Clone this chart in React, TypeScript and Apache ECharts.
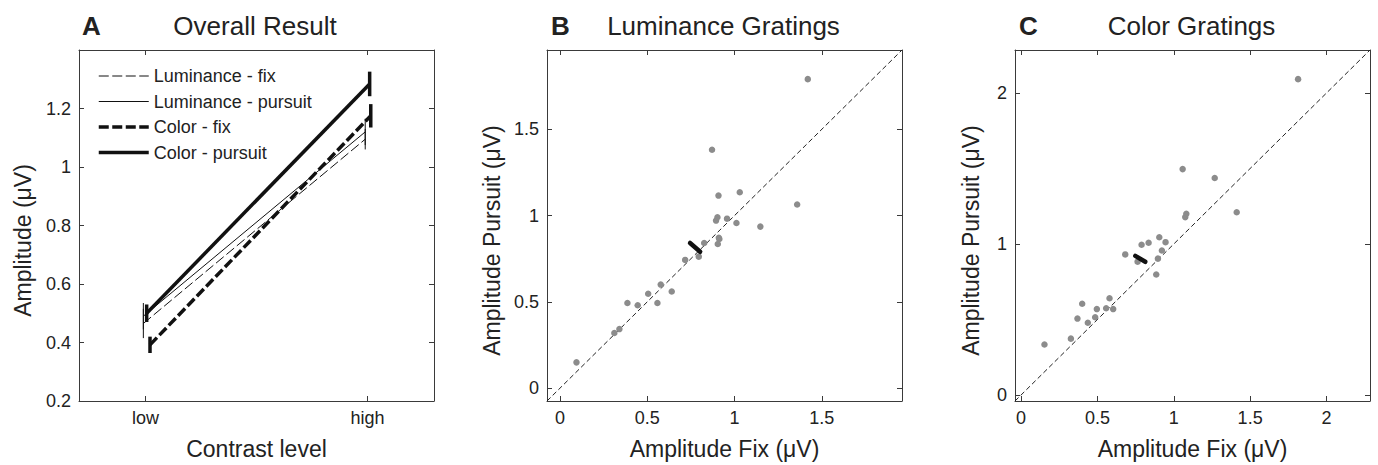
import React, { useEffect, useRef } from 'react';
import * as echarts from 'echarts';

// ---------- Panel A: Overall Result ----------
const contrastTicks = [1, 2];
const contrastLabels = ['low', 'high'];
const lumFixX = [0.99, 1.99];
const lumFix = [0.465, 1.095];
const lumFixErr = [0.05, 0.035];
const lumPursuitX = [0.99, 1.99];
const lumPursuit = [0.49, 1.12];
const lumPursuitErr = [0.045, 0.045];
const colorFixX = [1.02, 2.015];
const colorFix = [0.392, 1.175];
const colorFixErr = [0.028, 0.04];
const colorPursuitX = [1.005, 2.01];
const colorPursuit = [0.5, 1.284];
const colorPursuitErr = [0.03, 0.042];

// ---------- Panel B: Luminance Gratings ----------
const lumAmpFix = [0.094, 0.311, 0.34, 0.386, 0.445, 0.505, 0.558, 0.577, 0.64, 0.717, 0.795, 0.826, 0.871, 0.894, 0.902, 0.908, 0.91, 0.913, 0.904, 0.957, 1.011, 1.03, 1.148, 1.359, 1.42];
const lumAmpPursuit = [0.149, 0.319, 0.342, 0.493, 0.48, 0.547, 0.493, 0.6, 0.56, 0.743, 0.762, 0.841, 1.382, 0.971, 0.99, 1.116, 0.871, 0.864, 0.835, 0.982, 0.957, 1.135, 0.936, 1.064, 1.791];
const lumMeanFix = [0.745, 0.803];
const lumMeanPursuit = [0.841, 0.79];

// ---------- Panel C: Color Gratings ----------
const colAmpFix = [0.153, 0.326, 0.369, 0.4, 0.437, 0.485, 0.496, 0.557, 0.579, 0.603, 0.682, 0.763, 0.789, 0.835, 0.885, 0.896, 0.905, 0.922, 0.946, 1.058, 1.075, 1.082, 1.268, 1.412, 1.814];
const colAmpPursuit = [0.334, 0.373, 0.506, 0.604, 0.478, 0.515, 0.569, 0.574, 0.641, 0.569, 0.931, 0.883, 0.995, 1.008, 0.798, 0.903, 1.045, 0.957, 1.012, 1.496, 1.178, 1.2, 1.437, 1.21, 2.092];
const colMeanFix = [0.748, 0.813];
const colMeanPursuit = [0.921, 0.882];

const rangeB = [-0.075, 1.96];
const rangeC = [-0.04, 2.285];

const FONT = '"Liberation Sans", Arial, Helvetica, sans-serif';
const TXT = '#222';
const FRAME = '#3a3a3a';
const DOT = '#8c8c8c';

const legendNames = ['Luminance - fix', 'Luminance - pursuit', 'Color - fix', 'Color - pursuit'];
const legendWidths = [1, 1, 3.5, 3.5];
const legendDashed = [true, false, true, false];

const grids = [
  { left: 79, top: 50, width: 355, height: 356 },
  { left: 547, top: 50, width: 355, height: 356 },
  { left: 1015, top: 50, width: 355, height: 356 },
];

function valAxis(opts: any) {
  return {
    type: 'value',
    scale: false,
    axisLine: { show: true, onZero: false, lineStyle: { color: FRAME, width: 1 } },
    axisTick: { show: true, inside: true, length: 5, lineStyle: { color: FRAME, width: 1 } },
    splitLine: { show: false },
    axisLabel: { show: true, color: TXT, fontSize: 18, fontFamily: FONT, margin: 8, showMinLabel: false, showMaxLabel: false },
    nameTextStyle: { color: TXT, fontSize: 23, fontFamily: FONT },
    ...opts,
  };
}

function mirror(base: any, position: string) {
  return {
    ...base,
    position,
    name: '',
    axisLabel: { show: false },
  };
}

function errSeries(xs: number[], ys: number[], errs: number[], width: number) {
  return {
    type: 'custom',
    xAxisIndex: 0,
    yAxisIndex: 0,
    z: 4,
    silent: true,
    data: xs.map((x, i) => [x, ys[i] - errs[i], ys[i] + errs[i]]),
    encode: { x: 0, y: [1, 2] },
    renderItem: (_p: any, api: any) => {
      const lo = api.coord([api.value(0), api.value(1)]);
      const hi = api.coord([api.value(0), api.value(2)]);
      return {
        type: 'line',
        shape: { x1: lo[0], y1: lo[1], x2: hi[0], y2: hi[1] },
        style: { stroke: '#111', lineWidth: width },
      };
    },
  };
}

function lineSeries(name: string, xs: number[], ys: number[], width: number, dashed: boolean) {
  return {
    type: 'line',
    name,
    xAxisIndex: 0,
    yAxisIndex: 0,
    symbol: 'none',
    showSymbol: false,
    z: 3,
    data: xs.map((x, i) => [x, ys[i]]),
    lineStyle: { color: '#111', width, type: dashed ? [10, 3.5] : 'solid' },
    itemStyle: { color: '#111' },
  };
}

export default function App() {
  const ref = useRef<HTMLDivElement>(null);
  useEffect(() => {
    if (!ref.current) return;
    const chart = echarts.init(ref.current, undefined, { renderer: 'svg' });

    const xA = valAxis({
      gridIndex: 0, min: 0.7, max: 2.3, splitNumber: 2,
      name: 'Contrast level', nameLocation: 'middle', nameGap: 36,
      axisLabel: {
        show: true, color: TXT, fontSize: 18, fontFamily: FONT, margin: 8,
        showMinLabel: false, showMaxLabel: false,
        formatter: (v: number) => {
          const i = contrastTicks.indexOf(Math.round(v * 1000) / 1000);
          return i >= 0 ? contrastLabels[i] : '';
        },
      },
    });
    const yA = valAxis({
      gridIndex: 0, min: 0.2, max: 1.4, interval: 0.2,
      name: 'Amplitude (μV)', nameLocation: 'middle', nameGap: 45,
      axisLabel: { show: true, color: TXT, fontSize: 18, fontFamily: FONT, margin: 8, showMinLabel: true, showMaxLabel: false },
      nameTextStyle: { color: TXT, fontSize: 23, fontFamily: FONT, padding: [0, 30, 0, 0] },
    });
    const xB = valAxis({
      gridIndex: 1, min: rangeB[0], max: rangeB[1], splitNumber: 4,
      name: 'Amplitude Fix (μV)', nameLocation: 'middle', nameGap: 36,
    });
    const yB = valAxis({
      gridIndex: 1, min: rangeB[0], max: rangeB[1], splitNumber: 4,
      name: 'Amplitude Pursuit (μV)', nameLocation: 'middle', nameGap: 44,
      nameTextStyle: { color: TXT, fontSize: 23, fontFamily: FONT, padding: [0, 30, 0, 0] },
    });
    const xC = valAxis({
      gridIndex: 2, min: rangeC[0], max: rangeC[1], splitNumber: 5,
      name: 'Amplitude Fix (μV)', nameLocation: 'middle', nameGap: 36,
    });
    const yC = valAxis({
      gridIndex: 2, min: rangeC[0], max: rangeC[1], splitNumber: 2,
      name: 'Amplitude Pursuit (μV)', nameLocation: 'middle', nameGap: 33,
      nameTextStyle: { color: TXT, fontSize: 23, fontFamily: FONT, padding: [0, 30, 0, 0] },
    });

    const xAxis = [xA, xB, xC, mirror(xA, 'top'), mirror(xB, 'top'), mirror(xC, 'top')];
    const yAxis = [yA, yB, yC, mirror(yA, 'right'), mirror(yB, 'right'), mirror(yC, 'right')];

    const titleText = (text: string, x: number, bold: boolean, align: string) => ({
      type: 'text',
      x,
      y: 26,
      silent: true,
      style: {
        text,
        fill: TXT,
        fontSize: 26,
        fontWeight: bold ? 'bold' : 'normal',
        fontFamily: FONT,
        align,
        verticalAlign: 'middle',
      },
    });

    const option: any = {
      animation: false,
      backgroundColor: '#fff',
      textStyle: { fontFamily: FONT, color: TXT },
      grid: grids,
      xAxis,
      yAxis,
      graphic: [
        titleText('A', 82, true, 'left'),
        titleText('Overall Result', 255, false, 'center'),
        titleText('B', 551, true, 'left'),
        titleText('Luminance Gratings', 723.5, false, 'center'),
        titleText('C', 1019, true, 'left'),
        titleText('Color Gratings', 1191.5, false, 'center'),
      ],
      legend: {
        show: true,
        data: legendNames.map((n, i) => ({
          name: n,
          itemStyle: { opacity: 0, color: 'rgba(0,0,0,0)', borderWidth: 0 },
          lineStyle: { color: '#111', width: legendWidths[i], type: legendDashed[i] ? [10, 3.5] : 'solid' },
        })),
        orient: 'vertical',
        left: 97,
        top: 67,
        itemWidth: 50,
        itemHeight: 18,
        itemGap: 7.5,
        padding: 0,
        selectedMode: false,
        textStyle: { fontSize: 18, color: TXT, fontFamily: FONT },
      },
      series: [
        lineSeries(legendNames[0], lumFixX, lumFix, 1, true),
        lineSeries(legendNames[1], lumPursuitX, lumPursuit, 1, false),
        lineSeries(legendNames[2], colorFixX, colorFix, 3.5, true),
        lineSeries(legendNames[3], colorPursuitX, colorPursuit, 3.5, false),
        errSeries(lumFixX, lumFix, lumFixErr, 1),
        errSeries(lumPursuitX, lumPursuit, lumPursuitErr, 1),
        errSeries(colorFixX, colorFix, colorFixErr, 3.5),
        errSeries(colorPursuitX, colorPursuit, colorPursuitErr, 3.5),
        // Panel B
        {
          type: 'line', xAxisIndex: 1, yAxisIndex: 1, symbol: 'none', silent: true, z: 2,
          data: [[rangeB[0], rangeB[0]], [rangeB[1], rangeB[1]]],
          lineStyle: { color: '#222', width: 1, type: [5, 3] },
        },
        {
          type: 'scatter', xAxisIndex: 1, yAxisIndex: 1, symbolSize: 6.5, z: 3, silent: true,
          itemStyle: { color: DOT, opacity: 1 },
          data: lumAmpFix.map((x, i) => [x, lumAmpPursuit[i]]),
        },
        {
          type: 'line', xAxisIndex: 1, yAxisIndex: 1, symbol: 'none', silent: true, z: 4,
          data: lumMeanFix.map((x, i) => [x, lumMeanPursuit[i]]),
          lineStyle: { color: '#111', width: 4.5, cap: 'round' },
        },
        // Panel C
        {
          type: 'line', xAxisIndex: 2, yAxisIndex: 2, symbol: 'none', silent: true, z: 2,
          data: [[rangeC[0], rangeC[0]], [rangeC[1], rangeC[1]]],
          lineStyle: { color: '#222', width: 1, type: [5, 3] },
        },
        {
          type: 'scatter', xAxisIndex: 2, yAxisIndex: 2, symbolSize: 6.5, z: 3, silent: true,
          itemStyle: { color: DOT, opacity: 1 },
          data: colAmpFix.map((x, i) => [x, colAmpPursuit[i]]),
        },
        {
          type: 'line', xAxisIndex: 2, yAxisIndex: 2, symbol: 'none', silent: true, z: 4,
          data: colMeanFix.map((x, i) => [x, colMeanPursuit[i]]),
          lineStyle: { color: '#111', width: 4.5, cap: 'round' },
        },
      ],
    };
    chart.setOption(option);
    return () => chart.dispose();
  }, []);

  return (
    <div
      ref={ref}
      style={{ position: 'absolute', left: 0, top: 0, width: 1378, height: 465, background: '#fff' }}
    />
  );
}
